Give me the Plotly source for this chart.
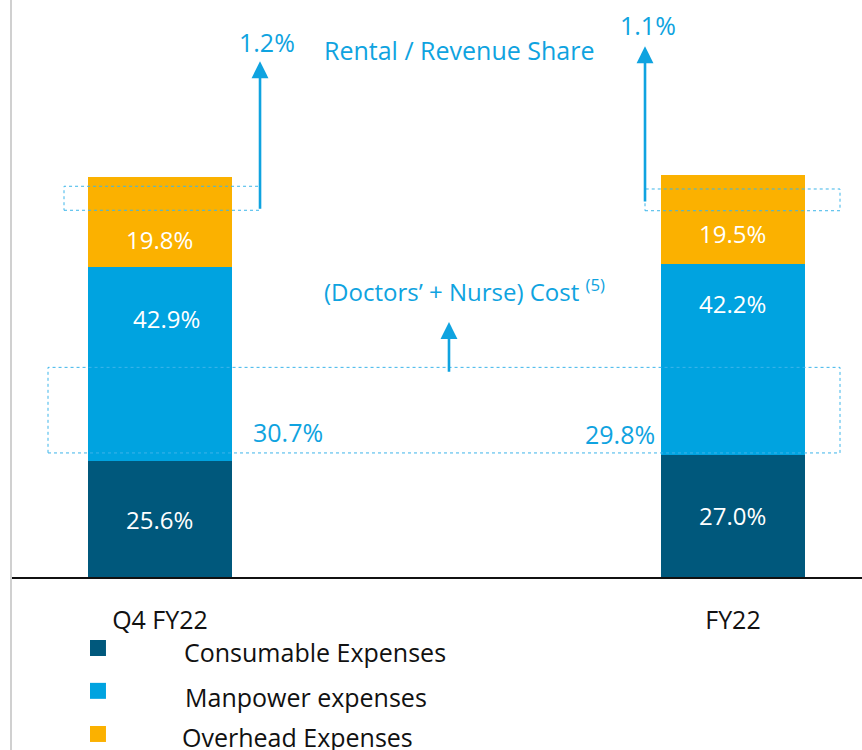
import plotly.graph_objects as go

categories = ["Q4 FY22", "FY22"]
series_names = ["Consumable Expenses", "Manpower expenses", "Overhead Expenses"]
consumable = [25.6, 27.0]
manpower = [42.9, 42.2]
overhead = [19.8, 19.5]
rental_share = ["1.2%", "1.1%"]
doctor_nurse = ["30.7%", "29.8%"]

colors = ["#00587C", "#00A3E0", "#FBB100"]
ann_blue = "#0FA3E0"
dot_blue = "#3DB5EA"
FONT = "Open Sans"

xpos = [0, 1]
W = 0.25

fig = go.Figure()
for name, vals, col in zip(series_names, [consumable, manpower, overhead], colors):
    fig.add_trace(go.Bar(x=xpos, y=vals, name=name, marker=dict(color=col, line=dict(width=0)),
                         width=W, showlegend=False))

ann = []
shapes = []
# segment labels
man_off = [11.3, 8.9]
over_off = [6.0, 6.7]
for i in range(2):
    c, m, o = consumable[i], manpower[i], overhead[i]
    ann.append(dict(x=xpos[i], y=c / 2, text=f"{c:.1f}%", showarrow=False,
                    font=dict(color="white", size=24, family=FONT)))
    ann.append(dict(x=xpos[i] + (0.012 if i == 0 else 0), y=c + m - man_off[i], text=f"{m:.1f}%",
                    showarrow=False, font=dict(color="white", size=24, family=FONT)))
    ann.append(dict(x=xpos[i], y=c + m + over_off[i], text=f"{o:.1f}%", showarrow=False,
                    font=dict(color="white", size=24, family=FONT)))

# Rental boxes and arrows
box_x = [(-0.1675, 0.1746), (0.8465, 1.1868)]
box_y = [(81.0, 86.3), (80.9, 85.7)]
arrow_x = [0.1746, 0.8465]
arrow_tail = [81.0, 82.6]
arrow_tip = [113.9, 117.2]
txt_x = [0.1868, 0.8517]
txt_y = [118.2, 122.0]
for i in range(2):
    shapes.append(dict(type="rect", xref="x", yref="y", x0=box_x[i][0], x1=box_x[i][1],
                       y0=box_y[i][0], y1=box_y[i][1], line=dict(color=dot_blue, width=1, dash="dot")))
    ann.append(dict(x=arrow_x[i], y=arrow_tip[i], ax=arrow_x[i], ay=arrow_tail[i], axref="x", ayref="y",
                    text="", showarrow=True, arrowhead=2, arrowsize=1.3, arrowwidth=2.6, arrowcolor=ann_blue))
    ann.append(dict(x=txt_x[i], y=txt_y[i], text=rental_share[i], showarrow=False,
                    font=dict(color=ann_blue, size=25, family=FONT)))

ann.append(dict(x=0.5218, y=116.3, text="Rental / Revenue Share", showarrow=False,
                font=dict(color=ann_blue, size=25, family=FONT)))

# Doctors + nurse box
shapes.append(dict(type="rect", xref="x", yref="y", x0=-0.1954, x1=1.1868, y0=27.4, y1=46.3,
                   line=dict(color=dot_blue, width=1, dash="dot")))
ann.append(dict(x=0.5044, y=56.3, ax=0.5044, ay=45.0, axref="x", ayref="y", text="", showarrow=True,
                arrowhead=2, arrowsize=1.3, arrowwidth=2.6, arrowcolor=ann_blue))
ann.append(dict(x=0.2828, y=63.3, xanchor="left",
                text="(Doctors\u2019 + Nurse) Cost <sup>(5)</sup>", showarrow=False,
                font=dict(color=ann_blue, size=24, family=FONT)))
ann.append(dict(x=0.2234, y=32.0, text=doctor_nurse[0], showarrow=False,
                font=dict(color=ann_blue, size=25, family=FONT)))
ann.append(dict(x=0.8028, y=31.6, text=doctor_nurse[1], showarrow=False,
                font=dict(color=ann_blue, size=25, family=FONT)))

# legend (manual)
leg_y = [-0.1235, -0.198, -0.273]
leg_text_y = [-0.130, -0.209, -0.278]
leg_text_x = [0.2010, 0.2022, 0.1987]
for name, col, ly, ty, tx in zip(series_names, colors, leg_y, leg_text_y, leg_text_x):
    shapes.append(dict(type="rect", xref="paper", yref="paper", x0=0.0928, x1=0.1116,
                       y0=ly - 0.0139, y1=ly + 0.0139, fillcolor=col, line=dict(width=0)))
    ann.append(dict(xref="paper", yref="paper", x=tx, y=ty, xanchor="left", yanchor="middle",
                    text=name, showarrow=False, font=dict(color="#111111", size=25, family=FONT)))

# left vertical frame line
shapes.append(dict(type="line", xref="paper", yref="paper", x0=0, x1=0, y0=-0.4, y1=1.01,
                   line=dict(color="#D0D0D0", width=2)))

fig.update_layout(
    barmode="stack",
    width=862, height=750,
    margin=dict(l=11, r=0, t=2, b=173),
    paper_bgcolor="white", plot_bgcolor="white",
    annotations=ann, shapes=shapes,
    xaxis=dict(range=[-0.26, 1.2252], tickmode="array", tickvals=xpos, ticktext=categories,
               showgrid=False, zeroline=False, showline=True, linecolor="#111111", linewidth=2,
               ticks="outside", ticklen=20, tickcolor="rgba(0,0,0,0)",
               tickfont=dict(size=25, color="#111111", family=FONT)),
    yaxis=dict(range=[0, 127], visible=False, showgrid=False, zeroline=False),
    font=dict(family=FONT),
)

fig.write_html("out.html", config={"displayModeBar": False},
               post_script="document.body.style.margin='0';document.body.style.padding='0';")
